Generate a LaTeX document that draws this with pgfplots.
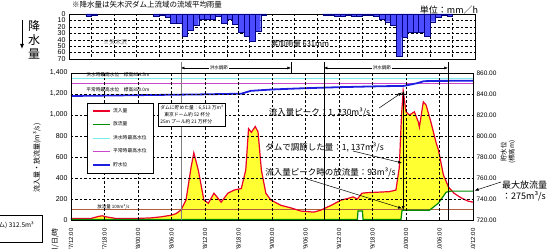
\documentclass[border=0pt]{standalone}
\usepackage{fontspec}
\setmainfont{Liberation Sans}
\newfontfamily\jp{Noto Sans CJK JP}
\usepackage{pgfplots}
\usepackage{pgfplotstable}
\pgfplotsset{compat=1.18}
\usetikzlibrary{arrows.meta}
\newcommand\fs[1]{\fontsize{#1}{#1}\selectfont}
\newcommand\PX[2]{(#1pt,{249pt-#2pt})}
\definecolor{inred}{RGB}{235,0,40}
\definecolor{outgreen}{RGB}{0,140,0}
\definecolor{lcyan}{RGB}{120,235,235}
\definecolor{lmag}{RGB}{205,70,205}
\definecolor{lvblue}{RGB}{30,30,225}
\definecolor{rainblue}{RGB}{75,75,255}
\definecolor{brn}{RGB}{175,95,60}
\definecolor{fillyel}{RGB}{255,255,50}
% inflow (hours from 7th 12:00, m3/s)
\pgfplotstableread{
x y
0 15
3.6 15
5.0 35
5.6 40
6.3 30
8 15
12 15
14.3 20
16.1 30
17.9 45
18.8 60
19.7 95
20.6 190
21.5 500
22.0 640
22.8 475
23.8 190
24.6 160
25.6 255
26.9 170
28.1 255
29.2 285
30.5 300
31.3 475
31.8 870
32.3 835
33.0 890
33.5 840
34.1 475
34.9 255
35.8 190
37.6 140
39.4 115
41.2 85
43.5 75
44.8 95
46.6 140
48.4 190
49.6 205
50.5 220
51.3 200
52.1 255
53 260
55 265
57 270
58.2 285
58.8 500
59.2 1000
59.5 1230
60.0 1030
60.6 1000
61.5 1030
62.2 935
62.4 885
63.1 1125
63.6 1095
64.5 925
65.4 735
65.8 670
66.7 430
67.6 315
68.6 255
69.9 210
71.1 180
72 170
}\inflow
% outflow
\pgfplotstableread{
x y
0 5
51.3 5
51.4 85
52.2 85
52.3 5
59.1 5
59.3 93
64.2 93
65.8 160
67.2 265
68 275
72 275
}\outflow
\begin{document}
\begin{tikzpicture}
\useasboundingbox (0,0) rectangle (547pt,249pt);
% ---------------- rainfall panel
\begin{axis}[at={(69pt,190pt)}, anchor=south west, scale only axis,
  width=406pt, height=45pt, xmin=0, xmax=72, ymin=0, ymax=70, y dir=reverse,
  xtick={0,4,...,72}, xticklabels={}, ytick={0,10,...,70},
  yticklabel style={font=\fs{7}}, /pgf/number format/assume math mode=true,
  major tick length=0pt, grid=major,
  grid style={black, dash pattern=on 2.5pt off 2pt, line width=0.35pt},
  axis line style={line width=0.8pt}]
\addplot[ybar, bar width=1, fill=rainblue, draw=blue!50!black, line width=0.3pt] coordinates {
(3.5,3)(4.5,2)(15.5,3)(16.5,2)(17.5,5)(18.5,14)(19.5,14)(20.5,35)(21.5,25)(22.5,17)
(23.5,8)(24.5,8)(25.5,8)(26.5,3)(27.5,14)(28.5,8)(29.5,16)(30.5,29)(31.5,35)(32.5,43)
(33.5,27)(34.5,2)(45.5,2)(46.5,2)(47.5,3)(48.5,3)(49.5,2)(50.5,3)(51.5,3)(52.5,2)
(53.5,2)(54.5,4)(55.5,8)(56.5,12)(57.5,18)(58.5,65)(59.5,36)(60.5,29)(61.5,29)(62.5,29)
(63.5,34)(64.5,12)(65.5,5)(66.5,2)(67.5,3)};
\end{axis}
% ---------------- main panel
\begin{axis}[at={(71pt,29pt)}, anchor=south west, scale only axis,
  width=402pt, height=147pt, xmin=0, xmax=72, ymin=0, ymax=1400,
  axis on top, clip=false,
  xtick={0,6,...,72},
  xticklabels={9/7/12:00,9/7/18:00,9/8/00:00,9/8/06:00,9/8/12:00,9/8/18:00,9/9/00:00,9/9/06:00,9/9/12:00,9/9/18:00,9/10/00:00,9/10/06:00,9/10/12:00},
  xticklabel style={rotate=90, anchor=east, font=\fs{6}},
  xticklabel shift=5pt,
  ytick={0,200,...,1400},
  yticklabel style={font=\fs{7}},
  /pgf/number format/1000 sep={,},
  /pgf/number format/assume math mode=true,
  major tick length=0pt, grid=major,
  grid style={black, dash pattern=on 2.5pt off 2pt, line width=0.35pt},
  axis line style={line width=0.8pt},
  legend style={at={(0.040,0.796)}, anchor=north west, font=\fs{4.8}\jp,
    draw=black, line width=0.5pt, row sep=4pt, inner xsep=5pt, inner ysep=3pt},
  legend cell align=left,
  legend image code/.code={\draw[#1] (0pt,0pt) -- (17pt,0pt);}]
\addplot[draw=none, fill=fillyel, forget plot] table {\inflow} \closedcycle;
\addplot[draw=none, fill=white, forget plot] table {\outflow} \closedcycle;
\addplot[brn, line width=0.6pt, forget plot] coordinates {(0,100)(72,100)};
\addplot[inred, line width=1.2pt] table {\inflow};
\addlegendentry{流入量}
\addplot[outgreen, line width=1.2pt] table {\outflow};
\addlegendentry{放流量}
\addplot[lcyan, line width=0.7pt] coordinates {(0,1345)(72,1345)};
\addlegendentry{洪水時最高水位}
\addplot[lmag, line width=0.8pt] coordinates {(0,1300)(72,1300)};
\addlegendentry{平常時最高水位}
% storage level, plotted on the left scale: (EL - 720) * 10
\addplot[lvblue, line width=1.8pt] coordinates {
(0,1181)(23,1196)(30.5,1203)(32.2,1230)(36,1243)(41.2,1254)(48,1265)(55.5,1274)
(59.6,1277)(62,1303)(63.2,1322)(66,1325)(72,1326)};
\addlegendentry{貯水位}
% labels of reference lines
\node[font=\fs{4.5}\jp] at (axis cs:7.6,124) {放流量 100m³/s};
\node[font=\fs{4.7}\jp] at (axis cs:8.4,1381) {洪水時最高水位　標高854.5m};
\node[font=\fs{4.7}\jp] at (axis cs:8.4,1240) {平常時最高水位　標高850.0m};
% flood-control period markers
\draw[gray, line width=0.8pt] (axis cs:19.7,0) -- (axis cs:19.7,1505);
\draw[black, line width=0.6pt] (axis cs:45.3,0) -- (axis cs:45.3,1505);
\draw[black, line width=0.6pt] (axis cs:67.5,0) -- (axis cs:67.5,1505);
\draw[black, line width=0.6pt] (axis cs:39.4,1390) -- (axis cs:39.4,1505);
\draw[{Latex[length=3.5pt,width=3pt]}-{Latex[length=3.5pt,width=3pt]}, line width=0.5pt]
  (axis cs:19.7,1448) -- (axis cs:39.4,1448);
\draw[{Latex[length=3.5pt,width=3pt]}-{Latex[length=3.5pt,width=3pt]}, line width=0.5pt]
  (axis cs:45.3,1448) -- (axis cs:67.5,1448);
\node[fill=white, inner sep=1pt, font=\fs{4.5}\jp] at (axis cs:26.5,1448) {洪水調節};
\node[fill=white, inner sep=1pt, font=\fs{4.5}\jp] at (axis cs:55.7,1448) {洪水調節};
% annotations
\node[anchor=west, font=\fs{8.5}\jp, inner sep=0pt] at (axis cs:35.4,1019) {流入量ピーク：1, 230m³/s};
\node[anchor=west, font=\fs{8.5}\jp, inner sep=0pt] at (axis cs:34.8,695) {ダムで調節した量：1, 137m³/s};
\node[anchor=west, font=\fs{8.5}\jp, inner sep=0pt] at (axis cs:34.8,448) {流入量ピーク時の放流量：93m³/s};
\draw[-{Latex[length=4pt,width=3pt]}, line width=0.5pt] (axis cs:55.2,1067) -- (axis cs:59.3,1215);
\draw[-{Latex[length=4pt,width=3pt]}, line width=0.5pt] (axis cs:50.5,657) -- (axis cs:59.3,543);
\draw[-{Latex[length=4pt,width=3pt]}, line width=0.5pt] (axis cs:41.7,400) -- (axis cs:59.3,110);
\draw[{Latex[length=4pt,width=3pt]}-{Latex[length=4pt,width=3pt]}, line width=0.6pt]
  (axis cs:59.5,1230) -- (axis cs:59.5,93);
\coordinate (tb) at (axis cs:15.6,1114);
\coordinate (maxq) at (axis cs:72.3,280);
\end{axis}
% ---------------- right axis (elevation)
\begin{axis}[at={(71pt,29pt)}, anchor=south west, scale only axis,
  width=402pt, height=147pt, xmin=0, xmax=72, ymin=720, ymax=860,
  xtick=\empty, ytick pos=right, yticklabel pos=right, ytick={720,740,...,860},
  yticklabel style={font=\fs{6.5}},
  /pgf/number format/fixed, /pgf/number format/fixed zerofill,
  /pgf/number format/precision=2, /pgf/number format/1000 sep={},
  /pgf/number format/assume math mode=true,
  major tick length=0pt, axis line style={line width=0.8pt}]
\addplot[draw=none] coordinates {(0,720)(72,860)};
\end{axis}
% ---------------- texts around
\node[draw, fill=white, anchor=north west, align=left, font=\fontsize{4.8}{7}\selectfont\jp,
  inner sep=2pt, line width=0.5pt] at (tb) {ダムに貯めた量：6,513 万m³\\\hspace{4pt}東京ドーム約 52 杯分\\25m プール約 21 万杯分};
\node[anchor=west, font=\fs{9}\jp, inner sep=0pt] at \PX{502}{185} {最大放流量};
\node[anchor=west, font=\fs{9}\jp, inner sep=0pt] at \PX{502}{196} {：275m³/s};
\draw[-{Latex[length=4pt,width=3pt]}, line width=0.5pt] \PX{501}{182} -- (maxq);
\node[font=\fs{7.5}\jp, inner sep=0pt] at \PX{147}{5} {※降水量は矢木沢ダム上流域の流域平均雨量};
\node[font=\fs{9}\jp, inner sep=0pt] at \PX{449}{10} {単位：mm／h};
\node[font=\fs{6}\jp, text=black!60, inner sep=0pt] at \PX{115}{42} {※矢木沢};
\node[font=\fs{7.5}\jp, inner sep=0pt] at \PX{300}{44} {累加雨量 631mm};
\node[font=\fontsize{12}{14}\selectfont\jp, align=center, inner sep=0pt] at \PX{34}{40} {降\\水\\量};
\draw[-{Latex[length=5pt,width=4pt]}, line width=0.8pt] \PX{22}{20} -- \PX{22}{49};
\node[rotate=90, font=\fs{7}\jp, inner sep=0pt] at \PX{37}{158} {流入量・放流量(m³/s)};
\node[rotate=90, font=\fontsize{6.5}{8}\selectfont\jp, align=center, inner sep=0pt] at \PX{508}{152} {貯水位\\(標高m)};
\node[rotate=90, anchor=east, font=\fs{7}\jp, inner sep=0pt] at \PX{55}{228} {月/日/時};
\draw[line width=0.5pt] \PX{-60}{215} rectangle \PX{42}{242};
\node[anchor=east, font=\fs{6.5}\jp, inner sep=0pt] at \PX{34}{225} {総流入量(ダム) 312.5m³};
\end{tikzpicture}
\end{document}
